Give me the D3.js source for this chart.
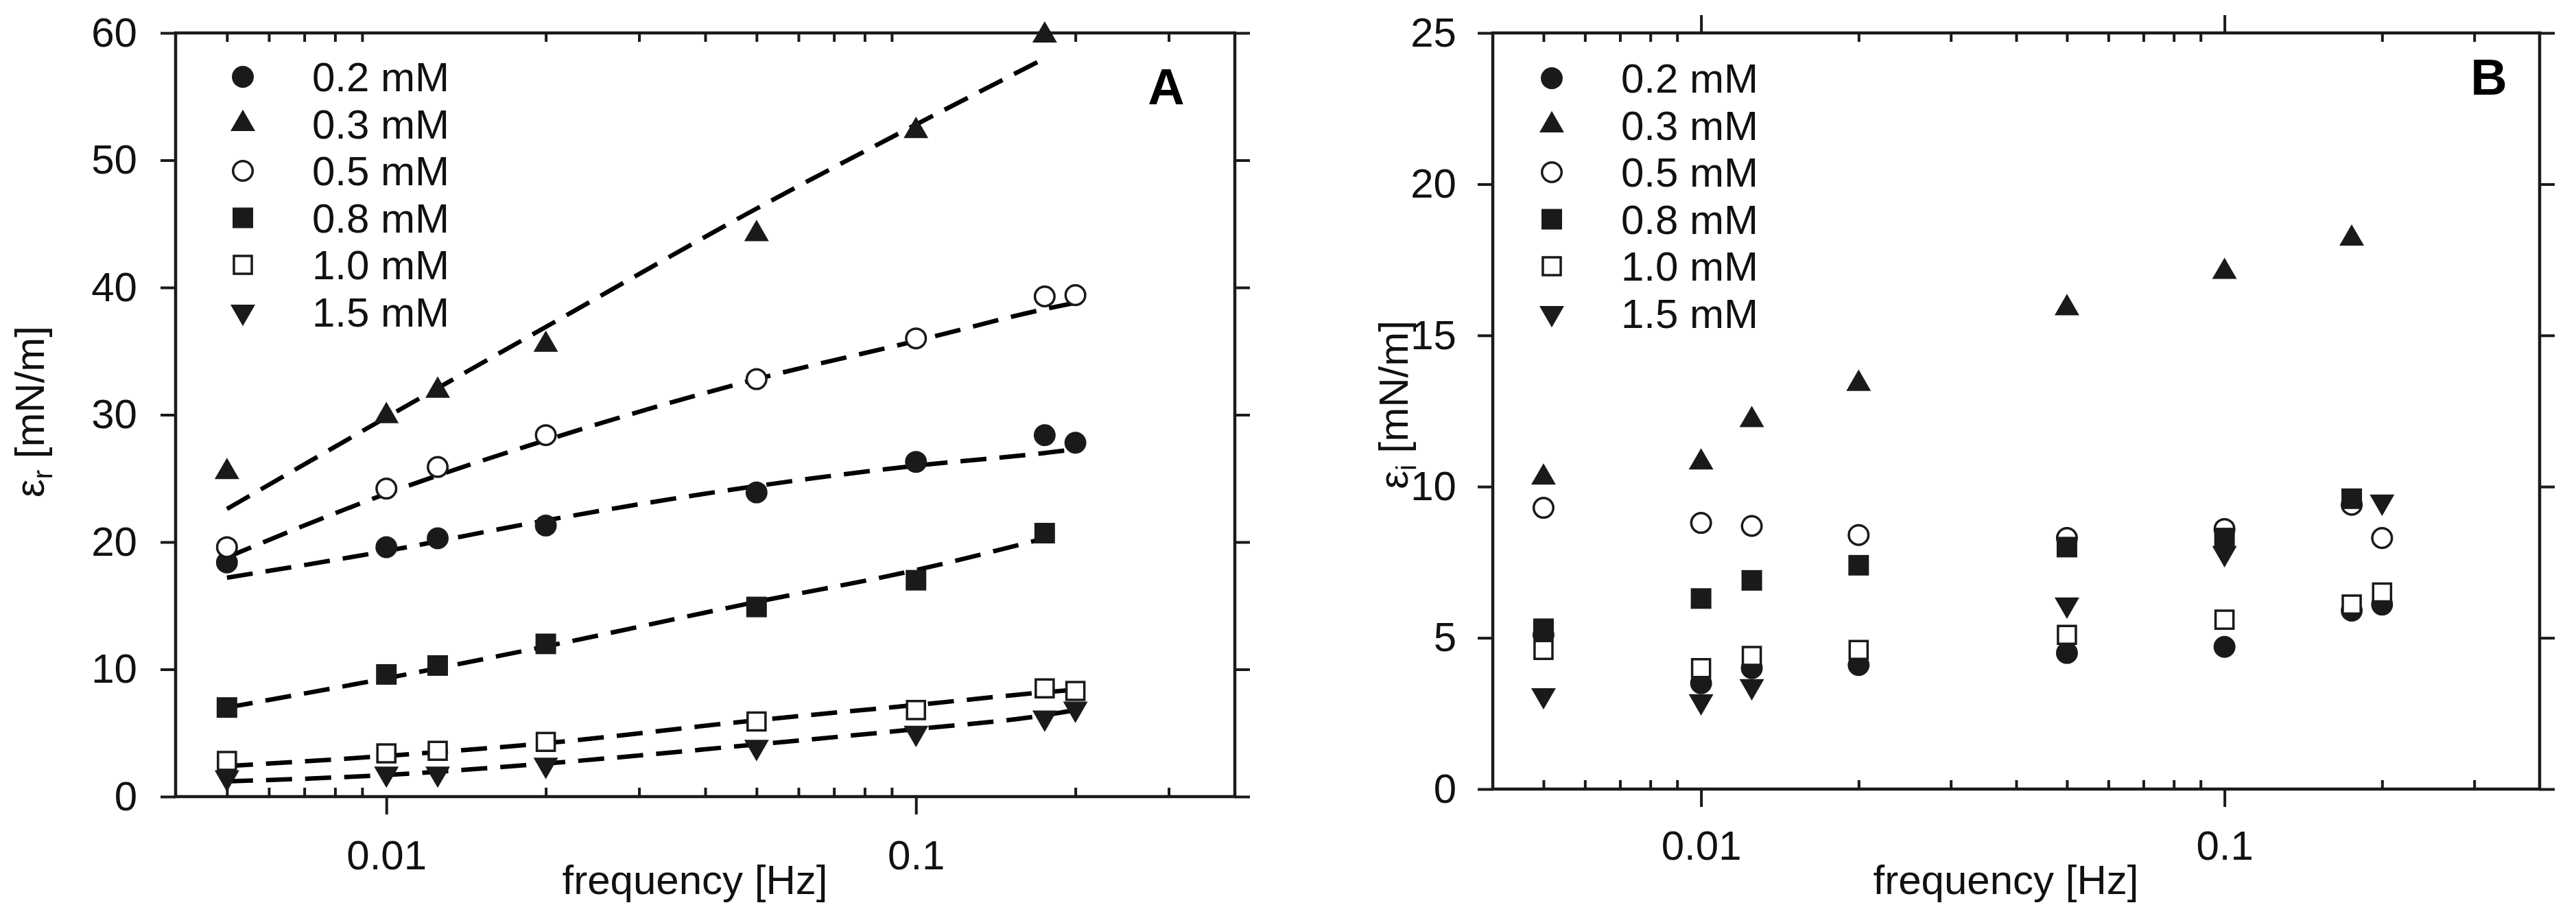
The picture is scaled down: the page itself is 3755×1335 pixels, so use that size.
<!DOCTYPE html>
<html>
<head>
<meta charset="utf-8">
<script src="https://cdn.jsdelivr.net/npm/d3@7"></script>
<style>
  body { margin: 0; background: #fff; }
  svg { display: block; font-family: "Liberation Sans", Arial, sans-serif; }
</style>
</head>
<body>
<div id="chart"></div>
<script>
/* CONSTANTS AND GLOBALS */
const width = 3755,
  height = 1335;

/* DATA */
const freqs = [0.005, 0.01, 0.0125, 0.02, 0.05, 0.1, 0.175, 0.2];
const seriesNames = ["0.2 mM", "0.3 mM", "0.5 mM", "0.8 mM", "1.0 mM", "1.5 mM"];
const markerTypes = ["dot", "triUp", "ring", "square", "box", "triDown"];

// panel A: real part (elasticity) eps_r
const realA_02 = [18.4, 19.6, 20.3, 21.3, 23.9, 26.3, 28.4, 27.8];
const realA_03 = [25.5, 29.9, 31.9, 35.5, 44.2, 52.3, 59.8, null];
const realA_05 = [19.6, 24.2, 25.9, 28.4, 32.8, 36.0, 39.3, 39.4];
const realA_08 = [7.0, 9.6, 10.3, 12.0, 14.9, 17.0, 20.7, null];
const realA_10 = [2.8, 3.4, 3.6, 4.3, 5.9, 6.8, 8.5, 8.3];
const realA_15 = [1.5, 1.8, 1.8, 2.5, 3.9, 5.0, 6.2, 6.9];

const fitFreqs = [0.005, 0.01, 0.02, 0.05, 0.1, 0.175, 0.2];
const fitA_02 = [17.2, 19.3, 21.7, 24.4, 26.0, 27.0, 27.3];
const fitA_03 = [22.6, 29.8, 36.9, 46.2, 52.8, 58.0, null];
const fitA_05 = [18.8, 23.8, 28.0, 32.8, 35.8, 38.3, 38.8];
const fitA_08 = [7.0, 9.3, 11.8, 15.3, 17.8, 20.3, null];
const fitA_10 = [2.4, 3.2, 4.2, 6.0, 7.2, 8.2, 8.4];
const fitA_15 = [1.2, 1.7, 2.6, 4.1, 5.3, 6.4, 6.8];

// panel B: imaginary part eps_i
const imagB_02 = [5.1, 3.5, 4.0, 4.1, 4.5, 4.7, 5.9, 6.1];
const imagB_03 = [10.3, 10.8, 12.2, 13.4, 15.9, 17.1, 18.2, null];
const imagB_05 = [9.3, 8.8, 8.7, 8.4, 8.3, 8.6, 9.4, 8.3];
const imagB_08 = [5.3, 6.3, 6.9, 7.4, 8.0, 8.3, 9.6, null];
const imagB_10 = [4.6, 4.0, 4.4, 4.6, 5.1, 5.6, 6.1, 6.5];
const imagB_15 = [3.1, 2.9, 3.4, null, 6.1, 7.8, null, 9.5];

// ticks
const majorTicks = [0.01, 0.1];
const minorTicks = [0.005, 0.006, 0.007, 0.008, 0.009, 0.02, 0.03, 0.04, 0.05, 0.06, 0.07, 0.08, 0.09, 0.2, 0.3];
const yTicksA = [0, 10, 20, 30, 40, 50, 60];
const yTicksB = [0, 5, 10, 15, 20, 25];

const ink = "#1a1a1a";

const svg = d3.select("#chart")
  .append("svg")
  .attr("width", width)
  .attr("height", height);

svg.append("rect").attr("width", width).attr("height", height).attr("fill", "#fff");

// marker drawing helper
function addMarker(sel, type) {
  if (type === "dot") {
    sel.append("path").attr("d", d3.symbol(d3.symbolCircle, 800)()).attr("fill", ink);
  } else if (type === "ring") {
    sel.append("path").attr("d", d3.symbol(d3.symbolCircle, 640)()).attr("fill", "#fff")
      .attr("stroke", ink).attr("stroke-width", 3.5);
  } else if (type === "square") {
    sel.append("path").attr("d", d3.symbol(d3.symbolSquare, 900)()).attr("fill", ink);
  } else if (type === "box") {
    sel.append("path").attr("d", d3.symbol(d3.symbolSquare, 680)()).attr("fill", "#fff")
      .attr("stroke", ink).attr("stroke-width", 3.5);
  } else if (type === "triUp") {
    sel.append("path").attr("d", d3.symbol(d3.symbolTriangle, 560)()).attr("fill", ink);
  } else {
    sel.append("path").attr("d", d3.symbol(d3.symbolTriangle, 560)())
      .attr("transform", "rotate(180)").attr("fill", ink);
  }
}

function drawPanel(cfg) {
  const g = svg.append("g");

  const xScale = d3.scaleLog().domain([0.004, 0.4]).range([cfg.left, cfg.right]);
  const yScale = d3.scaleLinear().domain([0, cfg.yMax]).range([cfg.bottom, cfg.top]);

  // bottom axis: majors out with labels, minors in
  const bottomMajor = g.append("g")
    .attr("transform", `translate(0,${cfg.bottom})`)
    .call(d3.axisBottom(xScale).tickValues(majorTicks).tickSize(26).tickFormat(d => d === 0.01 ? "0.01" : "0.1"));
  bottomMajor.selectAll("text").attr("dy", null).attr("y", cfg.xLabelBase - cfg.bottom);

  g.append("g")
    .attr("transform", `translate(0,${cfg.bottom})`)
    .call(d3.axisBottom(xScale).tickValues(minorTicks).tickSize(-13).tickFormat(""));

  // top axis
  g.append("g")
    .attr("transform", `translate(0,${cfg.top})`)
    .call(d3.axisTop(xScale).tickValues(minorTicks).tickSize(-13).tickFormat(""));
  if (cfg.topMajor) {
    g.append("g")
      .attr("transform", `translate(0,${cfg.top})`)
      .call(d3.axisTop(xScale).tickValues(majorTicks).tickSize(26).tickFormat(""));
  }

  // left and right axes
  g.append("g")
    .attr("transform", `translate(${cfg.left},0)`)
    .call(d3.axisLeft(yScale).tickValues(cfg.yTicks).tickSize(22).tickPadding(cfg.yPad));
  g.append("g")
    .attr("transform", `translate(${cfg.right},0)`)
    .call(d3.axisRight(yScale).tickValues(cfg.yTicks).tickSize(22).tickFormat(""));

  g.selectAll(".domain").remove();
  g.selectAll(".tick line").attr("stroke", ink).attr("stroke-width", 4);
  g.selectAll(".tick text").attr("fill", "#111").attr("font-size", 60)
    .attr("font-family", "'Liberation Sans', Arial, sans-serif");

  // frame
  g.append("rect")
    .attr("x", cfg.left).attr("y", cfg.top)
    .attr("width", cfg.right - cfg.left).attr("height", cfg.bottom - cfg.top)
    .attr("fill", "none").attr("stroke", ink).attr("stroke-width", 4.5);

  // axis titles
  g.append("text")
    .attr("x", (cfg.left + cfg.right) / 2 - 15)
    .attr("y", 1303)
    .attr("text-anchor", "middle")
    .attr("font-size", 60)
    .attr("fill", "#111")
    .text("frequency [Hz]");

  const yt = g.append("text")
    .attr("transform", `translate(${cfg.yTitleX},${cfg.yTitleY}) rotate(-90)`)
    .attr("text-anchor", "middle")
    .attr("font-size", 60)
    .attr("fill", "#111");
  yt.append("tspan").text("ε");
  yt.append("tspan").attr("font-size", 40).attr("dy", 12).text(cfg.sub);
  yt.append("tspan").attr("dy", -12).text(" [mN/m]");

  // panel letter
  g.append("text")
    .attr("x", cfg.letterX).attr("y", cfg.letterY)
    .attr("text-anchor", "middle")
    .attr("font-size", 74)
    .attr("font-weight", "bold")
    .attr("fill", "#000")
    .text(cfg.letter);

  // dashed fit curves
  if (cfg.fits) {
    const line = d3.line()
      .defined(d => d[1] !== null)
      .x(d => xScale(d[0]))
      .y(d => yScale(d[1]))
      .curve(d3.curveMonotoneX);
    cfg.fits.forEach(f => {
      g.append("path")
        .datum(fitFreqs.map((fr, i) => [fr, f[i]]))
        .attr("d", line)
        .attr("fill", "none")
        .attr("stroke", "#000")
        .attr("stroke-width", 6.5)
        .attr("stroke-dasharray", "38,19");
    });
  }

  // data markers, one series after another
  cfg.series.forEach((vals, si) => {
    const pts = freqs.map((fr, i) => ({ f: fr, v: vals[i] })).filter(d => d.v !== null);
    g.selectAll(null)
      .data(pts)
      .join("g")
      .attr("transform", d => `translate(${xScale(d.f)},${yScale(d.v)})`)
      .each(function() { addMarker(d3.select(this), markerTypes[si]); });
  });

  // legend
  const legend = g.append("g");
  seriesNames.forEach((name, i) => {
    const yy = cfg.legendY + i * 68.5;
    const m = legend.append("g").attr("transform", `translate(${cfg.legendX},${yy})`);
    addMarker(m, markerTypes[i]);
    legend.append("text")
      .attr("x", cfg.legendX + 101)
      .attr("y", yy)
      .attr("dy", "0.35em")
      .attr("font-size", 60)
      .attr("fill", "#111")
      .text(name);
  });
}

drawPanel({
  left: 256, right: 1800, top: 48, bottom: 1161,
  yMax: 60, yTicks: yTicksA, yPad: 34,
  xLabelBase: 1267, topMajor: false,
  yTitleX: 64, yTitleY: 600, sub: "r",
  letter: "A", letterX: 1700, letterY: 152,
  legendX: 354, legendY: 112,
  fits: [fitA_02, fitA_03, fitA_05, fitA_08, fitA_10, fitA_15],
  series: [realA_02, realA_03, realA_05, realA_08, realA_10, realA_15]
});

drawPanel({
  left: 2176, right: 3702, top: 48, bottom: 1150,
  yMax: 25, yTicks: yTicksB, yPad: 31,
  xLabelBase: 1253, topMajor: true,
  yTitleX: 2052, yTitleY: 590, sub: "i",
  letter: "B", letterX: 3628, letterY: 138,
  legendX: 2262, legendY: 114,
  fits: null,
  series: [imagB_02, imagB_03, imagB_05, imagB_08, imagB_10, imagB_15]
});
</script>
</body>
</html>
